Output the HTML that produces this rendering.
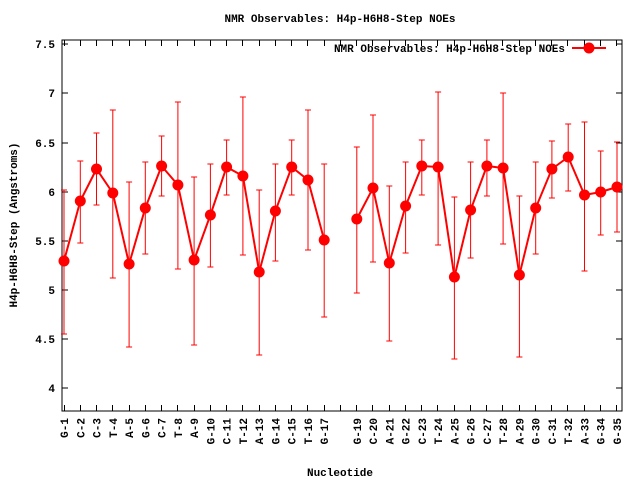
<!DOCTYPE html>
<html><head><meta charset="utf-8"><style>
body{margin:0;background:#fff}
svg{display:block}
text{font-family:"Liberation Mono","DejaVu Sans Mono",monospace;font-size:11px;font-weight:bold;fill:#000}
</style></head><body>
<svg width="640" height="480" viewBox="0 0 640 480" xmlns="http://www.w3.org/2000/svg">
<rect x="0" y="0" width="640" height="480" fill="#fff"/>
<text x="340" y="22" text-anchor="middle">NMR Observables: H4p-H6H8-Step NOEs</text>
<rect x="62" y="40" width="560" height="371" fill="none" stroke="#000" stroke-width="1"/>
<g stroke="#000" stroke-width="1">
<line x1="62" y1="44" x2="68" y2="44"/><line x1="616" y1="44" x2="622" y2="44"/>
<line x1="62" y1="93" x2="68" y2="93"/><line x1="616" y1="93" x2="622" y2="93"/>
<line x1="62" y1="143" x2="68" y2="143"/><line x1="616" y1="143" x2="622" y2="143"/>
<line x1="62" y1="192" x2="68" y2="192"/><line x1="616" y1="192" x2="622" y2="192"/>
<line x1="62" y1="241" x2="68" y2="241"/><line x1="616" y1="241" x2="622" y2="241"/>
<line x1="62" y1="290" x2="68" y2="290"/><line x1="616" y1="290" x2="622" y2="290"/>
<line x1="62" y1="339" x2="68" y2="339"/><line x1="616" y1="339" x2="622" y2="339"/>
<line x1="62" y1="388" x2="68" y2="388"/><line x1="616" y1="388" x2="622" y2="388"/>
<path d="M64.5 40v6M80.5 40v6M96.5 40v6M112.5 40v6M129.5 40v6M145.5 40v6M161.5 40v6M177.5 40v6M194.5 40v6M210.5 40v6M226.5 40v6M242.5 40v6M259.5 40v6M275.5 40v6M291.5 40v6M307.5 40v6M324.5 40v6M340.5 40v6M356.5 40v6M372.5 40v6M389.5 40v6M405.5 40v6M421.5 40v6M437.5 40v6M454.5 40v6M470.5 40v6M486.5 40v6M502.5 40v6M519.5 40v6M535.5 40v6M551.5 40v6M567.5 40v6M584.5 40v6M600.5 40v6M616.5 40v6
M64.5 411v-6M80.5 411v-6M96.5 411v-6M112.5 411v-6M129.5 411v-6M145.5 411v-6M161.5 411v-6M177.5 411v-6M194.5 411v-6M210.5 411v-6M226.5 411v-6M242.5 411v-6M259.5 411v-6M275.5 411v-6M291.5 411v-6M307.5 411v-6M324.5 411v-6M340.5 411v-6M356.5 411v-6M372.5 411v-6M389.5 411v-6M405.5 411v-6M421.5 411v-6M437.5 411v-6M454.5 411v-6M470.5 411v-6M486.5 411v-6M502.5 411v-6M519.5 411v-6M535.5 411v-6M551.5 411v-6M567.5 411v-6M584.5 411v-6M600.5 411v-6M616.5 411v-6"/>
</g>
<g text-anchor="end">
<text x="55" y="48">7.5</text><text x="55" y="97">7</text><text x="55" y="147">6.5</text>
<text x="55" y="196">6</text><text x="55" y="245">5.5</text><text x="55" y="294">5</text>
<text x="55" y="343">4.5</text><text x="55" y="392">4</text>
</g>
<text transform="translate(17,225) rotate(-90)" text-anchor="middle">H4p-H6H8-Step (Angstroms)</text>
<text x="340" y="476" text-anchor="middle">Nucleotide</text>
<g text-anchor="end">
<text transform="translate(68,418) rotate(-90)">G-1</text>
<text transform="translate(84.3,418) rotate(-90)">C-2</text>
<text transform="translate(100.5,418) rotate(-90)">C-3</text>
<text transform="translate(116.8,418) rotate(-90)">T-4</text>
<text transform="translate(133.1,418) rotate(-90)">A-5</text>
<text transform="translate(149.3,418) rotate(-90)">G-6</text>
<text transform="translate(165.6,418) rotate(-90)">C-7</text>
<text transform="translate(181.9,418) rotate(-90)">T-8</text>
<text transform="translate(198.1,418) rotate(-90)">A-9</text>
<text transform="translate(214.4,418) rotate(-90)">G-10</text>
<text transform="translate(230.6,418) rotate(-90)">C-11</text>
<text transform="translate(246.9,418) rotate(-90)">T-12</text>
<text transform="translate(263.2,418) rotate(-90)">A-13</text>
<text transform="translate(279.4,418) rotate(-90)">G-14</text>
<text transform="translate(295.7,418) rotate(-90)">C-15</text>
<text transform="translate(312,418) rotate(-90)">T-16</text>
<text transform="translate(328.2,418) rotate(-90)">G-17</text>
<text transform="translate(360.8,418) rotate(-90)">G-19</text>
<text transform="translate(377,418) rotate(-90)">C-20</text>
<text transform="translate(393.3,418) rotate(-90)">A-21</text>
<text transform="translate(409.6,418) rotate(-90)">G-22</text>
<text transform="translate(425.8,418) rotate(-90)">C-23</text>
<text transform="translate(442.1,418) rotate(-90)">T-24</text>
<text transform="translate(458.4,418) rotate(-90)">A-25</text>
<text transform="translate(474.6,418) rotate(-90)">G-26</text>
<text transform="translate(490.9,418) rotate(-90)">C-27</text>
<text transform="translate(507.1,418) rotate(-90)">T-28</text>
<text transform="translate(523.4,418) rotate(-90)">A-29</text>
<text transform="translate(539.7,418) rotate(-90)">G-30</text>
<text transform="translate(555.9,418) rotate(-90)">C-31</text>
<text transform="translate(572.2,418) rotate(-90)">T-32</text>
<text transform="translate(588.5,418) rotate(-90)">A-33</text>
<text transform="translate(604.7,418) rotate(-90)">G-34</text>
<text transform="translate(621,418) rotate(-90)">G-35</text>
</g>
<text x="565" y="52" text-anchor="end">NMR Observables: H4p-H6H8-Step NOEs</text>
<line x1="572" y1="48" x2="606" y2="48" stroke="#f00" stroke-width="2"/>
<circle cx="589" cy="48" r="5.5" fill="#f00"/>
<g stroke="#f00" stroke-width="1" fill="none">
<path d="M64 190V334M61 190h6M61 334h6
M80.3 161V243M77.3 161h6M77.3 243h6
M96.5 133V205M93.5 133h6M93.5 205h6
M112.8 110V278M109.8 110h6M109.8 278h6
M129.1 182V347M126.1 182h6M126.1 347h6
M145.3 162V254M142.3 162h6M142.3 254h6
M161.6 136V196M158.6 136h6M158.6 196h6
M177.9 102V269M174.9 102h6M174.9 269h6
M194.1 177V345M191.1 177h6M191.1 345h6
M210.4 164V267M207.4 164h6M207.4 267h6
M226.6 140V195M223.6 140h6M223.6 195h6
M242.9 97V255M239.9 97h6M239.9 255h6
M259.2 190V355M256.2 190h6M256.2 355h6
M275.4 164V261M272.4 164h6M272.4 261h6
M291.7 140V195M288.7 140h6M288.7 195h6
M308 110V250M305 110h6M305 250h6
M324.2 164V317M321.2 164h6M321.2 317h6
M356.8 147V293M353.8 147h6M353.8 293h6
M373 115V262M370 115h6M370 262h6
M389.3 186V341M386.3 186h6M386.3 341h6
M405.6 162V253M402.6 162h6M402.6 253h6
M421.8 140V195M418.8 140h6M418.8 195h6
M438.1 92V245M435.1 92h6M435.1 245h6
M454.4 197V359M451.4 197h6M451.4 359h6
M470.6 162V258M467.6 162h6M467.6 258h6
M486.9 140V196M483.9 140h6M483.9 196h6
M503.1 93V244M500.1 93h6M500.1 244h6
M519.4 196V357M516.4 196h6M516.4 357h6
M535.7 162V254M532.7 162h6M532.7 254h6
M551.9 141V198M548.9 141h6M548.9 198h6
M568.2 124V191M565.2 124h6M565.2 191h6
M584.5 122V271M581.5 122h6M581.5 271h6
M600.7 151V235M597.7 151h6M597.7 235h6
M617 142V232M614 142h6M614 232h6"/>
</g>
<g stroke="#f00" stroke-width="2" fill="none">
<polyline points="64,261 80.3,201 96.5,169 112.8,193 129.1,264 145.3,208 161.6,166 177.9,185 194.1,260 210.4,215 226.6,167 242.9,176 259.2,272 275.4,211 291.7,167 308,180 324.2,240"/>
<polyline points="356.8,219 373,188 389.3,263 405.6,206 421.8,166 438.1,167 454.4,277 470.6,210 486.9,166 503.1,168 519.4,275 535.7,208 551.9,169 568.2,157 584.5,195 600.7,192 617,187"/>
</g>
<g fill="#f00">
<circle cx="64" cy="261" r="5.5"/><circle cx="80.3" cy="201" r="5.5"/><circle cx="96.5" cy="169" r="5.5"/>
<circle cx="112.8" cy="193" r="5.5"/><circle cx="129.1" cy="264" r="5.5"/><circle cx="145.3" cy="208" r="5.5"/>
<circle cx="161.6" cy="166" r="5.5"/><circle cx="177.9" cy="185" r="5.5"/><circle cx="194.1" cy="260" r="5.5"/>
<circle cx="210.4" cy="215" r="5.5"/><circle cx="226.6" cy="167" r="5.5"/><circle cx="242.9" cy="176" r="5.5"/>
<circle cx="259.2" cy="272" r="5.5"/><circle cx="275.4" cy="211" r="5.5"/><circle cx="291.7" cy="167" r="5.5"/>
<circle cx="308" cy="180" r="5.5"/><circle cx="324.2" cy="240" r="5.5"/>
<circle cx="356.8" cy="219" r="5.5"/><circle cx="373" cy="188" r="5.5"/><circle cx="389.3" cy="263" r="5.5"/>
<circle cx="405.6" cy="206" r="5.5"/><circle cx="421.8" cy="166" r="5.5"/><circle cx="438.1" cy="167" r="5.5"/>
<circle cx="454.4" cy="277" r="5.5"/><circle cx="470.6" cy="210" r="5.5"/><circle cx="486.9" cy="166" r="5.5"/>
<circle cx="503.1" cy="168" r="5.5"/><circle cx="519.4" cy="275" r="5.5"/><circle cx="535.7" cy="208" r="5.5"/>
<circle cx="551.9" cy="169" r="5.5"/><circle cx="568.2" cy="157" r="5.5"/><circle cx="584.5" cy="195" r="5.5"/>
<circle cx="600.7" cy="192" r="5.5"/><circle cx="617" cy="187" r="5.5"/>
</g>
</svg>
</body></html>
